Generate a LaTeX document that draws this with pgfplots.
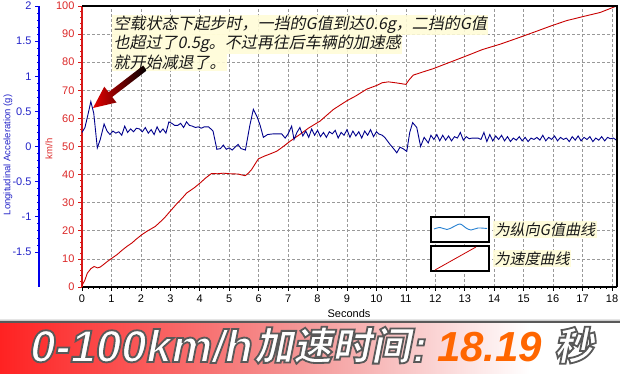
\documentclass[border=0pt]{standalone}
\usepackage{fontspec}
\usepackage{pgfplots}
\pgfplotsset{compat=1.18}
\usepackage{pgfplotstable}
\setmainfont{Liberation Sans}
\newfontfamily\cjkit[FakeSlant=0.2]{Noto Sans CJK SC}
\newfontfamily\cjkbb[FakeSlant=0.2]{Noto Sans CJK SC}
\newfontfamily\latb{Liberation Sans}
\newcommand\outl[1]{\special{pdf:literal direct 2 Tr 1.8 w 0.35 0.35 0.35 RG}#1\special{pdf:literal direct 0 Tr}}

\definecolor{redax}{RGB}{215,25,25}
\definecolor{redlab}{RGB}{220,40,40}
\definecolor{reddata}{RGB}{200,0,0}
\definecolor{blueax}{RGB}{0,0,235}
\definecolor{bluelab}{RGB}{35,35,200}
\definecolor{bluedata}{RGB}{0,0,140}
\definecolor{annfill}{RGB}{255,252,215}
\definecolor{annt}{RGB}{25,25,25}
\definecolor{bred}{RGB}{255,34,34}
\definecolor{bpink}{RGB}{244,150,150}
\definecolor{borange}{RGB}{255,102,0}
\definecolor{lgblue}{RGB}{40,130,210}

\pgfplotstableread{
t v
0.00 0.5
0.10 2.5
0.18 4.9
0.30 6.5
0.41 7.3
0.53 6.8
0.62 7.1
0.72 7.9
0.85 9.0
1.01 10.2
1.20 11.6
1.35 13.0
1.52 14.4
1.70 15.7
1.85 17.1
2.03 18.6
2.20 19.8
2.35 20.7
2.48 21.5
2.60 22.6
2.80 24.6
2.99 26.9
3.20 29.4
3.40 31.6
3.56 33.5
3.80 35.2
4.01 37.0
4.20 38.8
4.40 40.4
4.60 40.3
4.80 40.5
5.02 40.3
5.30 40.2
5.54 39.6
5.65 40.5
5.76 41.8
5.88 43.8
5.99 45.6
6.20 46.6
6.40 47.4
6.61 48.3
6.80 49.7
7.07 51.9
7.40 54.3
7.70 56.6
8.08 59.0
8.54 63.2
9.00 66.3
9.30 68.0
9.67 70.4
10.00 71.7
10.20 72.7
10.41 73.0
10.70 72.6
11.00 72.1
11.10 73.6
11.25 75.4
11.60 76.6
11.93 77.7
12.50 80.0
13.07 82.3
13.60 84.5
14.20 86.4
14.80 88.6
15.33 90.6
15.90 92.8
16.46 94.8
17.00 96.2
17.60 97.7
18.18 100.1
}\vdata

\pgfplotstableread{
t g
0.00 0.20
0.10 0.27
0.20 0.45
0.30 0.64
0.40 0.47
0.52 -0.02
0.62 0.10
0.75 0.32
0.85 0.22
0.95 0.17
1.05 0.22
1.15 0.19
1.25 0.21
1.35 0.16
1.45 0.29
1.55 0.20
1.65 0.25
1.75 0.21
1.85 0.26
1.95 0.25
2.05 0.21
2.15 0.27
2.25 0.19
2.35 0.24
2.45 0.17
2.55 0.28
2.65 0.20
2.75 0.25
2.85 0.19
2.95 0.35
3.05 0.33
3.15 0.30
3.25 0.30
3.35 0.33
3.45 0.27
3.55 0.35
3.65 0.30
3.75 0.29
3.85 0.27
3.95 0.28
4.05 0.26
4.15 0.28
4.30 0.28
4.45 0.22
4.58 -0.04
4.70 -0.03
4.80 0.02
4.90 -0.04
5.00 -0.02
5.10 -0.05
5.20 -0.01
5.30 0.03
5.40 -0.03
5.55 -0.05
5.70 0.30
5.82 0.53
5.95 0.42
6.05 0.30
6.16 0.13
6.30 0.17
6.50 0.18
6.78 0.18
6.90 0.12
7.00 0.18
7.12 0.29
7.20 0.10
7.30 0.20
7.40 0.27
7.50 0.15
7.60 0.22
7.70 0.13
7.80 0.25
7.90 0.16
8.00 0.23
8.10 0.14
8.20 0.20
8.30 0.13
8.40 0.21
8.50 0.18
8.60 0.23
8.70 0.12
8.80 0.20
8.90 0.16
9.00 0.24
9.10 0.13
9.20 0.22
9.30 0.15
9.40 0.21
9.50 0.12
9.60 0.22
9.70 0.16
9.80 0.24
9.90 0.14
10.00 0.21
10.07 0.18
10.20 0.16
10.30 0.12
10.46 0.03
10.60 -0.04
10.69 -0.09
10.80 -0.01
10.90 -0.03
11.03 -0.07
11.13 0.20
11.23 0.34
11.37 0.27
11.50 0.00
11.62 0.13
11.76 0.05
11.85 0.16
11.95 0.10
12.05 0.17
12.15 0.08
12.25 0.16
12.35 0.09
12.45 0.15
12.55 0.08
12.65 0.14
12.75 0.12
12.85 0.20
12.95 0.09
13.05 0.14
13.15 0.11
13.25 0.12
13.35 0.12
13.45 0.12
13.55 0.10
13.65 0.20
13.75 0.07
13.85 0.17
13.95 0.08
14.05 0.15
14.15 0.10
14.25 0.16
14.35 0.08
14.45 0.14
14.55 0.07
14.65 0.12
14.75 0.09
14.85 0.14
14.95 0.08
15.05 0.13
15.15 0.07
15.25 0.12
15.35 0.10
15.45 0.13
15.55 0.09
15.65 0.16
15.75 0.08
15.85 0.13
15.95 0.10
16.05 0.15
16.15 0.08
16.25 0.13
16.35 0.10
16.45 0.12
16.55 0.07
16.65 0.14
16.75 0.09
16.85 0.15
16.95 0.08
17.05 0.13
17.15 0.10
17.25 0.14
17.35 0.07
17.45 0.12
17.55 0.09
17.65 0.14
17.75 0.08
17.85 0.13
17.95 0.11
18.05 0.12
18.18 0.08
}\gdata

\begin{document}
\begin{tikzpicture}
\path[use as bounding box] (0pt,0pt) rectangle (620pt,374pt);
\fill[white] (0pt,0pt) rectangle (620pt,374pt);

% speed axis
\begin{axis}[
  at={(82pt,87pt)}, anchor=south west, scale only axis,
  width=535pt, height=281pt,
  xmin=0, xmax=18.17, ymin=0, ymax=100,
  axis x line*=bottom, axis y line*=left,
  xtick={0,1,...,18}, ytick={0,10,...,100},
  minor x tick num=4, minor y tick num=4,
  tick align=outside, major tick length=4pt, minor tick length=2pt,
  grid=major,
  major grid style={dash pattern=on 3pt off 2pt, gray!80, line width=0.6pt},
  x axis line style={black, line width=1.6pt, -},
  y axis line style={redax, line width=2.2pt, -},
  xtick style={black, line width=0.6pt},
  ytick style={redax, line width=0.6pt},
  xticklabel style={font=\fontsize{11}{12}\selectfont, black},
  yticklabel style={font=\fontsize{11}{12}\selectfont, redlab},
  /pgf/number format/assume math mode=true,
]
\addplot[reddata, line width=0.9pt] table[x=t, y=v] {\vdata};
\end{axis}

% G axis
\begin{axis}[
  at={(39pt,87pt)}, anchor=south west, scale only axis,
  width=578pt, height=281pt,
  xmin=-1.4604, xmax=18.17, ymin=-2, ymax=2,
  axis x line=none, axis y line*=left,
  ytick={-1.5,-1,-0.5,0,0.5,1,1.5,2},
  minor y tick num=4,
  tick align=outside, major tick length=4pt, minor tick length=2pt,
  y axis line style={blueax, line width=2.2pt, -},
  ytick style={blueax, line width=0.6pt},
  yticklabel style={font=\fontsize{11}{12}\selectfont, bluelab},
  /pgf/number format/assume math mode=true,
  /pgf/number format/fixed,
]
\addplot[bluedata, line width=0.9pt] table[x=t, y=g] {\gdata};
\end{axis}

% frame top and right
\draw[black, line width=1.4pt] (82pt,368pt) -- (617pt,368pt) -- (617pt,87pt);

% axis labels
\node[rotate=90, text=bluelab, font=\fontsize{9.5}{10}\selectfont] at (8pt,219pt) {Longitudinal Acceleration (g)};
\node[rotate=90, text=redlab, font=\fontsize{9.5}{10}\selectfont] at (49pt,225pt) {km/h};
\node[font=\fontsize{11}{12}\selectfont] at (349pt,60pt) {Seconds};

% annotation
\begin{scope}[every node/.style={anchor=base west, inner sep=1.5pt, fill=annfill, fill opacity=0.88, text opacity=1, text=annt, font=\cjkit\fontsize{16}{16}\selectfont}]
\node at (112pt,344pt) {空载状态下起步时，一挡的G值到达0.6g，二挡的G值};
\node at (112pt,325pt) {也超过了0.5g。不过再往后车辆的加速感};
\node at (112pt,305.5pt) {就开始减退了。};
\end{scope}

% arrow
\shade[left color=red!90!black, right color=black]
  (143.2pt,308.4pt) -- (146.8pt,303.6pt) -- (112.2pt,277.0pt) -- (116.5pt,271.5pt)
  -- (93pt,266pt) -- (104.3pt,287.3pt) -- (108.6pt,281.8pt) -- cycle;

% legend
\draw[black, line width=2pt, fill=white] (431pt,157pt) rectangle (489pt,132pt);
\draw[black, line width=2pt, fill=white] (431pt,128pt) rectangle (489pt,103pt);
\draw[lgblue, line width=0.9pt] plot[smooth] coordinates {(434pt,145pt) (440pt,146.5pt) (447pt,144.5pt) (453pt,147pt) (460pt,150pt) (466pt,146pt) (471pt,144pt) (478pt,146pt) (487pt,145.5pt)};
\draw[reddata, line width=0.8pt] (435pt,104pt) -- (476pt,127pt);
\begin{scope}[every node/.style={anchor=base west, inner sep=1.5pt, fill=annfill, fill opacity=0.88, text opacity=1, text=annt, font=\cjkit\fontsize{15}{15}\selectfont}]
\node at (493pt,138.5pt) {为纵向G值曲线};
\node at (493pt,109.5pt) {为速度曲线};
\end{scope}

% banner
\shade[top color=white, bottom color=gray!70] (0pt,56pt) rectangle (620pt,52.5pt);
\fill[black!65] (0pt,52.5pt) rectangle (620pt,50.5pt);
\shade[left color=bred, right color=bpink] (0pt,0pt) rectangle (300.5pt,50.5pt);
\shade[left color=bpink, right color=white] (300pt,0pt) rectangle (530pt,50.5pt);
\fill[white] (529.5pt,0pt) rectangle (620pt,50.5pt);

\node[anchor=base west, inner sep=0pt, text=white] at (30pt,12pt) {\latb\bfseries\itshape\fontsize{45.5}{46}\selectfont\outl{0-100km/h}};
\node[anchor=base west, inner sep=0pt, text=white] at (254pt,14pt) {\cjkbb\bfseries\fontsize{39}{39}\selectfont\outl{加速时间}};
\node[anchor=base west, inner sep=0pt, text=white] at (412pt,12pt) {\latb\bfseries\itshape\fontsize{45}{46}\selectfont\outl{:}};
\node[anchor=base west, inner sep=0pt, text=borange] at (437pt,12pt) {\latb\bfseries\itshape\fontsize{42}{42}\selectfont 18.19};
\node[anchor=base west, inner sep=0pt, text=white] at (554pt,14pt) {\cjkbb\bfseries\fontsize{39}{39}\selectfont\outl{秒}};
\end{tikzpicture}
\end{document}
